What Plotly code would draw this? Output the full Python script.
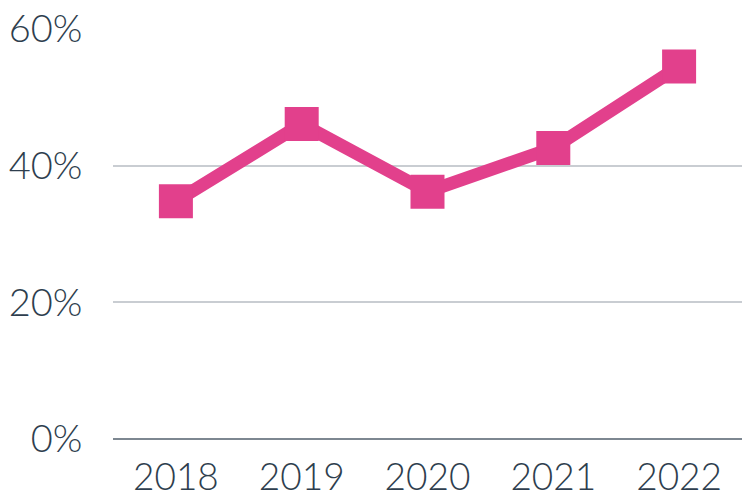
import plotly.graph_objects as go

years = ["2018", "2019", "2020", "2021", "2022"]
values = [34.8, 46.1, 36.2, 42.6, 54.5]
y_ticks = [0, 20, 40, 60]
y_tick_labels = ["0%", "20%", "40%", "60%"]

fig = go.Figure()
fig.add_trace(go.Scatter(
    x=years, y=values, mode="lines+markers",
    line=dict(color="#E2408C", width=13),
    marker=dict(symbol="square", size=34, color="#E2408C"),
    showlegend=False, cliponaxis=False,
))

fig.update_layout(
    width=742, height=500,
    margin=dict(l=113, r=0, t=29, b=61, autoexpand=False),
    paper_bgcolor="white", plot_bgcolor="white",
    font=dict(family="Lato", size=38, color="#2E3E4E", weight=300),
    xaxis=dict(type="category", range=[-0.5, 4.5], showgrid=False, showline=False,
               zeroline=False, ticks="outside", ticklen=6, tickcolor="rgba(0,0,0,0)",
               tickfont=dict(size=37), automargin=False),
    yaxis=dict(range=[0, 60], tickvals=y_ticks, ticktext=y_tick_labels,
               showgrid=True, gridcolor="#C9CDD2", gridwidth=2,
               zeroline=True, zerolinecolor="#7D8791", zerolinewidth=2,
               showline=False, ticks="outside", ticklen=22, tickcolor="rgba(0,0,0,0)",
               automargin=False),
)

fig.write_html("out.html", config={"displayModeBar": False},
               post_script="document.body.style.margin='0';document.body.style.overflow='hidden';")
